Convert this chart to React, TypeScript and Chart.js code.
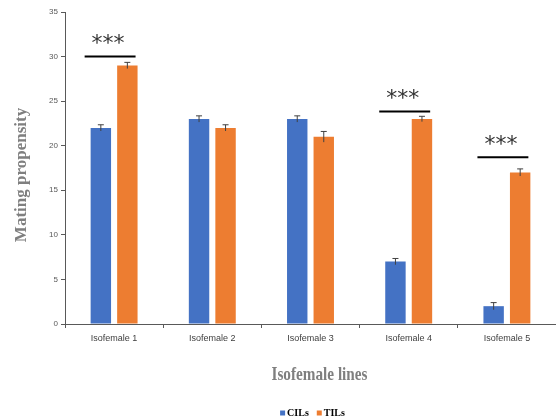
import React, { useEffect, useRef } from "react";
import { Chart, registerables } from "chart.js";

Chart.register(...registerables);

const categories = ["Isofemale 1", "Isofemale 2", "Isofemale 3", "Isofemale 4", "Isofemale 5"];
const seriesNames = ["CILs", "TILs"];
const cilValues = [22, 23, 23, 7, 2];
const tilValues = [29, 22, 21, 23, 17];
const cilErrors = [0.35, 0.35, 0.35, 0.35, 0.4];
const tilErrors = [0.35, 0.35, 0.6, 0.3, 0.4];
const sigIndices = [0, 3, 4];
const sigLevels = [30, 23.85, 18.7];
const sigLabels = ["***", "***", "***"];
const yTicks = [0, 5, 10, 15, 20, 25, 30, 35];
const xTitle = "Isofemale lines";
const yTitle = "Mating propensity";

const BLUE = "#4472C4";
const ORANGE = "#ED7D31";

const annotationPlugin = {
  id: "annot",
  afterDatasetsDraw(chart: any) {
    const ctx = chart.ctx;
    const y = chart.scales.y;
    const errs = [cilErrors, tilErrors];
    ctx.save();
    // error bars
    ctx.strokeStyle = "#404040";
    ctx.lineWidth = 1;
    [0, 1].forEach((di) => {
      const meta = chart.getDatasetMeta(di);
      const vals = chart.data.datasets[di].data as number[];
      meta.data.forEach((bar: any, i: number) => {
        const v = vals[i];
        const e = errs[di][i];
        const top = y.getPixelForValue(v + e);
        const bot = y.getPixelForValue(v - e);
        ctx.beginPath();
        ctx.moveTo(bar.x, top);
        ctx.lineTo(bar.x, bot);
        ctx.moveTo(bar.x - 3, top);
        ctx.lineTo(bar.x + 3, top);
        ctx.stroke();
      });
    });
    // significance
    const m0 = chart.getDatasetMeta(0);
    const m1 = chart.getDatasetMeta(1);
    sigIndices.forEach((idx, k) => {
      const b0 = m0.data[idx] as any;
      const b1 = m1.data[idx] as any;
      const x0 = b0.x - b0.width / 2 - 6;
      const x1 = b1.x + b1.width / 2 - 2;
      const py = y.getPixelForValue(sigLevels[k]);
      ctx.strokeStyle = "#000";
      ctx.lineWidth = 2;
      ctx.beginPath();
      ctx.moveTo(x0, py);
      ctx.lineTo(x1, py);
      ctx.stroke();
      ctx.fillStyle = "#333";
      ctx.font = "22px 'DejaVu Sans'";
      ctx.textAlign = "center";
      ctx.textBaseline = "middle";
      ctx.fillText(sigLabels[k], (x0 + x1) / 2 - 2, py - 12);
    });
    ctx.restore();
  },
  afterDraw(chart: any) {
    const ctx = chart.ctx;
    const area = chart.chartArea;
    // y axis title
    ctx.save();
    ctx.fillStyle = "#7f7f7f";
    ctx.font = "bold 17px 'Liberation Serif'";
    ctx.textAlign = "center";
    ctx.textBaseline = "middle";
    ctx.translate(22, (area.top + area.bottom) / 2 + 7);
    ctx.rotate(-Math.PI / 2);
    ctx.fillText(yTitle, 0, 0);
    ctx.restore();

    // x axis title (condensed bold serif)
    ctx.save();
    ctx.fillStyle = "#7f7f7f";
    ctx.font = "bold 19px 'Liberation Serif'";
    ctx.textBaseline = "alphabetic";
    ctx.textAlign = "left";
    const w = ctx.measureText(xTitle).width;
    const targetW = 96;
    const sx = targetW / w;
    const cx = (area.left + area.right) / 2 + 9;
    ctx.translate(cx - targetW / 2, area.bottom + 56);
    ctx.scale(sx, 1);
    ctx.fillText(xTitle, 0, 0);
    ctx.restore();

    // legend
    ctx.save();
    ctx.font = "bold 10px 'Liberation Serif'";
    ctx.textBaseline = "middle";
    ctx.textAlign = "left";
    const colors = chart.data.datasets.map((d: any) => d.backgroundColor);
    const box = 5;
    const gap = 2;
    const itemGap = 8;
    const widths = seriesNames.map((n) => box + gap + ctx.measureText(n).width);
    const total = widths.reduce((a: number, b: number) => a + b, 0) + itemGap * (seriesNames.length - 1);
    let lx = (area.left + area.right) / 2 + 2 - total / 2;
    const ly = 413;
    seriesNames.forEach((n, i) => {
      ctx.fillStyle = colors[i];
      ctx.fillRect(lx, ly - box / 2, box, box);
      ctx.fillStyle = "#000";
      ctx.fillText(n, lx + box + gap, ly + 0.5);
      lx += widths[i] + itemGap;
    });
    ctx.restore();
  },
};

export default function App() {
  const ref = useRef<HTMLCanvasElement>(null);
  useEffect(() => {
    document.body.style.margin = "0";
    const chart = new Chart(ref.current!, {
      type: "bar",
      data: {
        labels: categories,
        datasets: [
          { label: seriesNames[0], data: cilValues, backgroundColor: BLUE },
          { label: seriesNames[1], data: tilValues, backgroundColor: ORANGE },
        ],
      },
      options: {
        animation: false,
        responsive: false,
        layout: { padding: { top: 12, right: 0, left: 0, bottom: 0 } },
        datasets: { bar: { categoryPercentage: 0.54, barPercentage: 0.77 } },
        plugins: {
          legend: { display: false },
          tooltip: { enabled: false },
        },
        scales: {
          x: {
            afterFit: (scale: any) => {
              scale.height = 95;
            },
            grid: { display: true, drawOnChartArea: false, tickLength: 4, color: "#595959" },
            border: { color: "#595959", width: 1 },
            ticks: { color: "#404040", padding: 5, font: { family: "'Liberation Sans'", size: 9 } },
          },
          y: {
            min: 0,
            max: 35,
            afterBuildTicks: (scale: any) => {
              scale.ticks = yTicks.map((v) => ({ value: v }));
            },
            afterFit: (scale: any) => {
              scale.width = 65;
            },
            grid: { display: true, drawOnChartArea: false, tickLength: 4, color: "#595959" },
            border: { color: "#595959", width: 1 },
            ticks: { color: "#595959", padding: 3, font: { family: "'Liberation Sans'", size: 8 } },
          },
        },
      },
      plugins: [annotationPlugin],
    });
    return () => chart.destroy();
  }, []);
  return <canvas ref={ref} width={556} height={419} style={{ display: "block" }} />;
}
